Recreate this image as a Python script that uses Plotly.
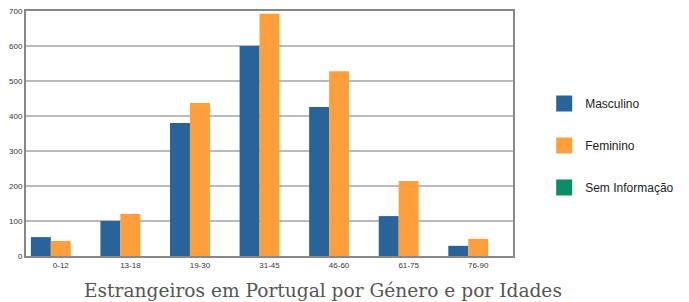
import plotly.graph_objects as go

categories = ["0-12", "13-18", "19-30", "31-45", "46-60", "61-75", "76-90"]
masculino = [54, 100, 380, 600, 426, 114, 29]
feminino = [43, 120, 437, 692, 528, 214, 49]
sem_info = [0, 0, 0, 0, 0, 0, 0]
series_names = ["Masculino", "Feminino", "Sem Informação"]
colors = ["#28639a", "#ff9f3b", "#0c8d68"]
y_ticks = [0, 100, 200, 300, 400, 500, 600, 700]
title_text = "Estrangeiros em Portugal por Género e por Idades"

fig = go.Figure()
for name, vals, c in zip(series_names, [masculino, feminino, sem_info], colors):
    fig.add_trace(go.Bar(x=categories, y=vals, name=name, marker=dict(color=c, line=dict(width=0)),
                         showlegend=False))
for i, (name, c) in enumerate(zip(series_names, colors)):
    fig.add_trace(go.Scatter(x=[None], y=[None], mode="markers", name=name,
                             marker=dict(symbol="square", size=17, color=c),
                             legendgroup=f"g{i}", showlegend=True))

fig.update_layout(
    width=689, height=302,
    margin=dict(l=26, r=176, t=11, b=46, autoexpand=False),
    paper_bgcolor="white", plot_bgcolor="white",
    barmode="group", bargap=0.14, bargroupgap=0.0,
    font=dict(family="Liberation Sans, Arial", color="#333"),
    legend=dict(x=1.062, y=0.682, xanchor="left", yanchor="top",
                font=dict(size=12, color="#222"), tracegroupgap=23,
                itemwidth=32),
    xaxis=dict(showline=True, linecolor="#888", linewidth=2, mirror=True, automargin=False,
               tickfont=dict(size=8, color="#333"), ticks="", showgrid=False),
    yaxis=dict(range=[0, 700], tickvals=y_ticks, showline=True, linecolor="#888", linewidth=2,
               mirror=True, gridcolor="#bbbbbb", gridwidth=1.5, automargin=False,
               tickfont=dict(size=8, color="#333"), ticks="", ticklen=3),
    annotations=[dict(text=title_text, xref="paper", yref="paper", x=0.61, y=-0.139,
                      xanchor="center", yanchor="middle", showarrow=False,
                      font=dict(family="DejaVu Serif", size=18.6, color="#555"))],
)
fig.write_html("out.html", config={"displayModeBar": False},
               post_script="document.body.style.margin='0';document.body.style.overflow='hidden';")
